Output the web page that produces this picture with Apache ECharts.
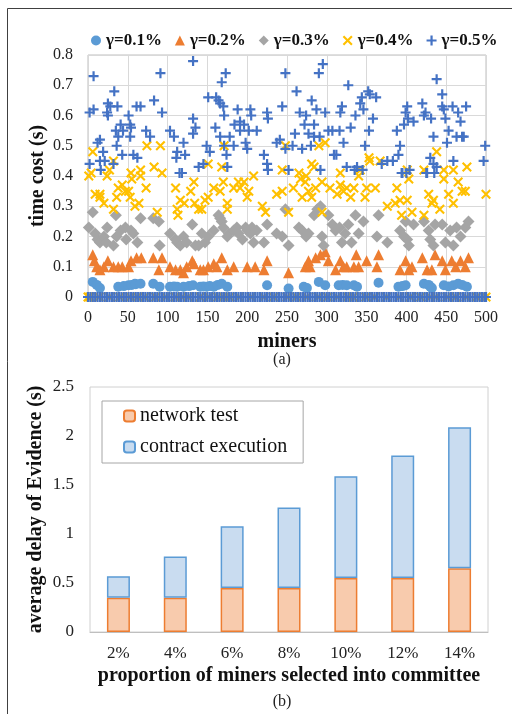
<!DOCTYPE html>
<html><head><meta charset="utf-8">
<script src="https://cdn.jsdelivr.net/npm/echarts@6/dist/echarts.min.js"></script>
<style>html,body{margin:0;padding:0;background:#fff}#c{width:512px;height:714px}</style>
</head><body><div id="c"></div>
<script>
// ---------- Panel (a): time cost per miner ----------
const seriesNamesA = ['γ=0.1%', 'γ=0.2%', 'γ=0.3%', 'γ=0.4%', 'γ=0.5%'];
const xTicksA = [0, 50, 100, 150, 200, 250, 300, 350, 400, 450, 500];
const yTicksA = [0, 0.1, 0.2, 0.3, 0.4, 0.5, 0.6, 0.7, 0.8];

const gamma01 = [[6,0.05],[11,0.04],[15,0.03],[38,0.034],[45,0.036],[51,0.039],[55,0.04],[59,0.044],[60,0.042],[66,0.044],[82,0.044],[90,0.034],[103,0.034],[108,0.035],[112,0.034],[120,0.034],[127,0.036],[132,0.039],[141,0.034],[145,0.035],[149,0.034],[153,0.036],[158,0.034],[163,0.04],[168,0.044],[175,0.034],[225,0.039],[252,0.028],[271,0.034],[275,0.03],[290,0.05],[298,0.039],[315,0.039],[320,0.04],[325,0.039],[334,0.039],[338,0.034],[365,0.047],[390,0.034],[395,0.036],[399,0.039],[422,0.044],[428,0.04],[430,0.034],[432,0.03],[447,0.039],[453,0.035],[459,0.039],[465,0.044],[470,0.04],[476,0.034]];

const gamma02 = [[6,0.14],[8,0.12],[11,0.10],[15,0.09],[20,0.10],[25,0.12],[32,0.10],[38,0.10],[43,0.10],[51,0.10],[54,0.12],[61,0.13],[67,0.13],[82,0.13],[89,0.09],[93,0.13],[103,0.10],[110,0.09],[116,0.09],[120,0.08],[124,0.10],[131,0.12],[133,0.11],[141,0.09],[145,0.09],[151,0.10],[158,0.11],[162,0.10],[168,0.13],[175,0.09],[183,0.10],[200,0.10],[210,0.10],[221,0.09],[225,0.12],[252,0.08],[273,0.10],[277,0.12],[279,0.10],[286,0.13],[292,0.14],[298,0.15],[302,0.12],[311,0.09],[317,0.12],[321,0.10],[325,0.10],[334,0.10],[337,0.14],[340,0.10],[350,0.12],[363,0.10],[365,0.14],[392,0.09],[399,0.12],[403,0.09],[407,0.10],[420,0.13],[426,0.09],[432,0.09],[436,0.14],[445,0.12],[449,0.09],[457,0.12],[462,0.10],[468,0.12],[474,0.10],[478,0.13]];

const gamma03 = [[1,0.23],[6,0.28],[9,0.21],[12,0.19],[15,0.18],[20,0.20],[23,0.18],[24,0.23],[32,0.17],[35,0.27],[36,0.20],[41,0.22],[47,0.23],[48,0.19],[54,0.22],[57,0.21],[62,0.18],[66,0.26],[82,0.26],[89,0.25],[90,0.17],[103,0.21],[110,0.19],[112,0.18],[116,0.17],[120,0.20],[124,0.18],[131,0.24],[135,0.17],[139,0.17],[143,0.21],[147,0.18],[151,0.20],[158,0.22],[164,0.27],[166,0.26],[168,0.25],[170,0.23],[175,0.20],[177,0.21],[183,0.22],[187,0.23],[189,0.21],[194,0.19],[198,0.23],[200,0.22],[204,0.21],[206,0.23],[208,0.18],[212,0.22],[221,0.18],[225,0.24],[237,0.21],[244,0.20],[248,0.29],[252,0.17],[265,0.23],[269,0.22],[274,0.20],[277,0.21],[284,0.27],[288,0.29],[292,0.30],[294,0.20],[296,0.17],[302,0.27],[307,0.24],[311,0.22],[316,0.23],[319,0.18],[323,0.21],[327,0.24],[331,0.18],[336,0.27],[340,0.21],[346,0.25],[363,0.20],[365,0.27],[376,0.18],[392,0.22],[397,0.20],[399,0.25],[401,0.19],[403,0.17],[409,0.24],[422,0.25],[428,0.22],[430,0.19],[434,0.17],[436,0.24],[445,0.24],[449,0.18],[455,0.22],[459,0.17],[463,0.23],[468,0.20],[474,0.23],[478,0.25]];

const gamma04 = [[6,0.48],[74,0.50],[91,0.50],[171,0.50],[168,0.43],[151,0.44],[4,0.41],[27,0.42],[32,0.45],[54,0.41],[66,0.42],[83,0.43],[93,0.41],[248,0.50],[281,0.44],[290,0.50],[298,0.51],[284,0.43],[317,0.41],[342,0.42],[353,0.46],[354,0.45],[367,0.45],[438,0.48],[401,0.42],[422,0.42],[447,0.42],[459,0.42],[476,0.43],[244,0.42],[265,0.41],[274,0.40],
[1,0.40],[9,0.34],[15,0.34],[15,0.33],[20,0.31],[24,0.40],[32,0.29],[36,0.33],[38,0.36],[43,0.37],[47,0.35],[51,0.35],[53,0.33],[55,0.39],[59,0.30],[64,0.31],[66,0.40],[73,0.36],[87,0.28],[110,0.36],[112,0.29],[113,0.27],[116,0.32],[121,0.31],[129,0.35],[133,0.38],[134,0.31],[139,0.29],[143,0.29],[147,0.32],[151,0.33],[158,0.36],[166,0.35],[170,0.38],[175,0.31],[175,0.29],[183,0.36],[189,0.38],[191,0.36],[196,0.38],[200,0.33],[202,0.35],[208,0.40],[219,0.30],[223,0.28],[237,0.34],[244,0.35],[252,0.28],[258,0.36],[267,0.39],[269,0.33],[273,0.38],[277,0.35],[281,0.33],[286,0.36],[294,0.38],[294,0.28],[304,0.36],[313,0.34],[317,0.37],[321,0.35],[325,0.36],[330,0.33],[334,0.36],[340,0.40],[348,0.33],[350,0.36],[361,0.36],[376,0.30],[386,0.31],[388,0.36],[392,0.32],[394,0.27],[401,0.32],[403,0.39],[407,0.28],[422,0.27],[428,0.34],[432,0.31],[434,0.32],[442,0.29],[447,0.39],[453,0.34],[459,0.31],[465,0.38],[470,0.35],[474,0.35],[500,0.34]];

const gamma05 = [[2,0.44],[2,0.61],[7,0.73],[7,0.62],[12,0.51],[15,0.52],[15,0.45],[16,0.42],[19,0.48],[21,0.45],[24,0.61],[25,0.64],[25,0.60],[28,0.63],[32,0.44],[33,0.68],[35,0.55],[37,0.63],[38,0.53],[36,0.50],[41,0.57],[43,0.47],[44,0.55],[51,0.60],[53,0.57],[54,0.56],[53,0.53],[57,0.47],[61,0.63],[62,0.46],[66,0.63],[73,0.55],[78,0.53],[83,0.65],[91,0.74],[93,0.61],[103,0.55],[108,0.53],[112,0.48],[111,0.46],[115,0.41],[118,0.41],[120,0.51],[122,0.47],[132,0.78],[132,0.59],[132,0.54],[135,0.56],[139,0.43],[145,0.44],[149,0.50],[151,0.66],[153,0.48],[160,0.56],[161,0.66],[164,0.65],[166,0.64],[166,0.53],[168,0.71],[170,0.63],[171,0.60],[173,0.74],[171,0.50],[174,0.47],[175,0.43],[178,0.53],[183,0.50],[184,0.57],[188,0.62],[191,0.58],[191,0.55],[196,0.57],[198,0.51],[200,0.49],[202,0.55],[204,0.62],[205,0.60],[212,0.55],[221,0.47],[225,0.44],[225,0.61],[226,0.59],[226,0.42],[237,0.51],[241,0.52],[244,0.63],[248,0.74],[248,0.49],[252,0.42],[257,0.50],[260,0.54],[262,0.68],[266,0.61],[269,0.49],[272,0.57],[274,0.60],[277,0.54],[280,0.50],[281,0.65],[284,0.57],[284,0.53],[287,0.62],[290,0.74],[291,0.53],[292,0.42],[295,0.77],[298,0.61],[302,0.55],[307,0.55],[309,0.47],[312,0.47],[316,0.55],[317,0.61],[319,0.63],[321,0.51],[325,0.43],[327,0.70],[330,0.56],[335,0.42],[336,0.60],[338,0.43],[342,0.64],[344,0.66],[345,0.42],[346,0.62],[348,0.50],[352,0.68],[353,0.55],[354,0.67],[358,0.59],[362,0.66],[369,0.44],[376,0.45],[383,0.45],[388,0.55],[390,0.47],[392,0.50],[394,0.41],[395,0.41],[397,0.57],[399,0.61],[400,0.41],[401,0.63],[402,0.59],[404,0.42],[409,0.58],[420,0.64],[422,0.60],[424,0.61],[425,0.41],[426,0.41],[430,0.46],[431,0.59],[434,0.53],[434,0.44],[435,0.41],[438,0.72],[438,0.43],[445,0.67],[445,0.63],[447,0.62],[449,0.59],[451,0.51],[453,0.55],[458,0.63],[459,0.45],[463,0.53],[465,0.61],[468,0.58],[470,0.53],[472,0.53],[475,0.63],[497,0.45],[499,0.50]];

// miners whose time cost is 0 (not selected), read from the dense band at y = 0
const zeroMinersPlus = [0,3,6,9,12,15,18,21,24,27,30,33,36,39,42,45,48,51,54,57,60,63,66,69,72,75,78,81,84,87,90,93,96,99,102,105,108,111,114,117,120,123,126,129,132,135,138,141,144,147,150,153,156,159,162,165,168,171,174,177,180,183,186,189,192,195,198,201,204,207,210,213,216,219,222,225,228,231,234,237,240,243,246,249,252,255,258,261,264,267,270,273,276,279,282,285,288,291,294,297,300,303,306,309,312,315,318,321,324,327,330,333,336,339,342,345,348,351,354,357,360,363,366,369,372,375,378,381,384,387,390,393,396,399,402,405,408,411,414,417,420,423,426,429,432,435,438,441,444,447,450,453,456,459,462,465,468,471,474,477,480,483,486,489,492,495,498,500];
const zeroMinersCross = [0,2,14,27,40,53,62,71,85,98,110,118,126,141,152,163,170,178,190,205,221,233,250,262,275,289,301,313,326,333,349,360,375,391,405,418,430,437,451,462,475,488,500];

// ---------- Panel (b): average delay of Evidence ----------
const categoriesB = ['2%', '4%', '6%', '8%', '10%', '12%', '14%'];
const networkTest = [0.35, 0.35, 0.45, 0.45, 0.55, 0.55, 0.65];
const contractExecution = [0.22, 0.42, 0.63, 0.82, 1.04, 1.25, 1.44];
const yTicksB = [0, 0.5, 1, 1.5, 2, 2.5];

const FONT = 'Liberation Serif, Times New Roman, serif';
const plusPath = 'path://M3.9,0H6.1V3.9H10V6.1H6.1V10H3.9V6.1H0V3.9H3.9Z';
const crossPath = 'path://M0,1.5L1.5,0L5,3.5L8.5,0L10,1.5L6.5,5L10,8.5L8.5,10L5,6.5L1.5,10L0,8.5L3.5,5Z';

const withZeros = (pts, zeros) => pts.concat(zeros.map(x => [x, 0]));

const chart = echarts.init(document.getElementById('c'), null, {renderer: 'canvas'});
chart.setOption({
  animation: false,
  textStyle: {fontFamily: FONT},
  graphic: [
    {type: 'line', shape: {x1: 7.5, y1: 8.5, x2: 512, y2: 8.5}, style: {stroke: '#404040', lineWidth: 1}},
    {type: 'line', shape: {x1: 7.5, y1: 8.5, x2: 7.5, y2: 714}, style: {stroke: '#404040', lineWidth: 1}},
    {type: 'text', x: 282, y: 360, style: {text: '(a)', font: '16px ' + FONT, fill: '#222', align: 'center', verticalAlign: 'middle'}},
    {type: 'text', x: 282, y: 702, style: {text: '(b)', font: '16px ' + FONT, fill: '#222', align: 'center', verticalAlign: 'middle'}}
  ],
  legend: [
    {
      data: seriesNamesA, left: 86, top: 27, itemWidth: 10, itemHeight: 10, itemGap: 13,
      textStyle: {fontFamily: FONT, fontSize: 17, fontWeight: 'bold', color: '#111'}
    },
    {
      data: ['network test', 'contract execution'], orient: 'vertical', left: 102, top: 401,
      padding: [5, 16, 6, 21], itemGap: 11, itemWidth: 11, itemHeight: 11,
      borderColor: '#a6a6a6', borderWidth: 1, backgroundColor: '#fff',
      textStyle: {fontFamily: FONT, fontSize: 20, color: '#111'}
    }
  ],
  grid: [
    {left: 88, right: 26, top: 55, bottom: 417, show: true, borderColor: '#bfbfbf', borderWidth: 1},
    {left: 90, right: 24, top: 387, bottom: 82, show: true, borderColor: '#d0d0d0', borderWidth: 1}
  ],
  xAxis: [
    {
      gridIndex: 0, type: 'value', min: xTicksA[0], max: xTicksA[xTicksA.length - 1], interval: 50,
      axisLine: {show: true, lineStyle: {color: '#bfbfbf'}}, axisTick: {show: false},
      splitLine: {show: true, lineStyle: {color: '#d9d9d9'}},
      axisLabel: {fontFamily: FONT, fontSize: 16, color: '#222', margin: 13},
      name: 'miners', nameLocation: 'middle', nameGap: 35, nameMoveOverlap: false,
      nameTextStyle: {fontFamily: FONT, fontSize: 20, fontWeight: 'bold', color: '#111'}
    },
    {
      gridIndex: 1, type: 'category', data: categoriesB,
      axisLine: {show: true, lineStyle: {color: '#bfbfbf'}}, axisTick: {show: false},
      axisLabel: {fontFamily: FONT, fontSize: 17, color: '#222', margin: 13},
      name: 'proportion of miners selected into committee', nameLocation: 'middle', nameGap: 34, nameMoveOverlap: false,
      nameTextStyle: {fontFamily: FONT, fontSize: 20, fontWeight: 'bold', color: '#111'}
    }
  ],
  yAxis: [
    {
      gridIndex: 0, type: 'value', min: yTicksA[0], max: yTicksA[yTicksA.length - 1], interval: 0.1,
      axisLine: {show: false}, axisTick: {show: false},
      splitLine: {show: true, lineStyle: {color: '#d9d9d9'}},
      axisLabel: {fontFamily: FONT, fontSize: 16, color: '#222', margin: 15},
      name: 'time cost (s)', nameLocation: 'middle', nameGap: 40, nameMoveOverlap: false,
      nameTextStyle: {fontFamily: FONT, fontSize: 20, fontWeight: 'bold', color: '#111'}
    },
    {
      gridIndex: 1, type: 'value', min: yTicksB[0], max: yTicksB[yTicksB.length - 1], interval: 0.5,
      axisLine: {show: false}, axisTick: {show: false}, splitLine: {show: false},
      axisLabel: {fontFamily: FONT, fontSize: 17, color: '#222', margin: 16},
      name: 'average delay of Evidence (s)', nameLocation: 'middle', nameGap: 44, nameMoveOverlap: false,
      nameTextStyle: {fontFamily: FONT, fontSize: 20, fontWeight: 'bold', color: '#111'}
    }
  ],
  series: [
    {name: seriesNamesA[0], type: 'scatter', xAxisIndex: 0, yAxisIndex: 0, data: gamma01,
     symbol: 'circle', symbolSize: 10, itemStyle: {color: '#5B9BD5', opacity: 1}},
    {name: seriesNamesA[1], type: 'scatter', xAxisIndex: 0, yAxisIndex: 0, data: gamma02,
     symbol: 'triangle', symbolSize: 11, itemStyle: {color: '#ED7D31', opacity: 1}},
    {name: seriesNamesA[2], type: 'scatter', xAxisIndex: 0, yAxisIndex: 0, data: gamma03,
     symbol: 'diamond', symbolSize: 12, itemStyle: {color: '#A5A5A5', opacity: 1}},
    {name: seriesNamesA[3], type: 'scatter', xAxisIndex: 0, yAxisIndex: 0, data: withZeros(gamma04, zeroMinersCross),
     symbol: crossPath, symbolSize: 10, itemStyle: {color: '#FFC000', opacity: 1}},
    {name: seriesNamesA[4], type: 'scatter', xAxisIndex: 0, yAxisIndex: 0, data: withZeros(gamma05, zeroMinersPlus),
     symbol: plusPath, symbolSize: 10, itemStyle: {color: '#4472C4', opacity: 1}},
    {name: 'network test', type: 'bar', stack: 'delay', xAxisIndex: 1, yAxisIndex: 1, data: networkTest,
     barWidth: 23, itemStyle: {color: '#F8CBAD', borderColor: '#ED7D31', borderWidth: 1.5}},
    {name: 'contract execution', type: 'bar', stack: 'delay', xAxisIndex: 1, yAxisIndex: 1, data: contractExecution,
     barWidth: 23, itemStyle: {color: '#C9DCF0', borderColor: '#5B9BD5', borderWidth: 1.5}}
  ]
});
</script>
</body></html>
